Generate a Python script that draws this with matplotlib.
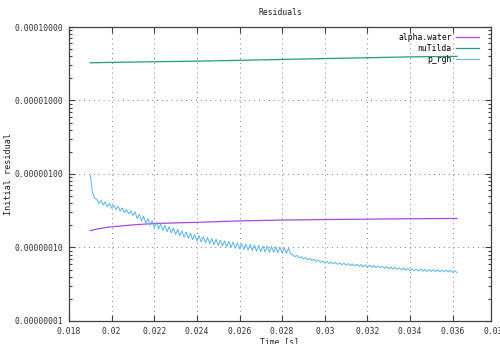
import numpy as np
import matplotlib
matplotlib.use("Agg")
import matplotlib.pyplot as plt
from matplotlib.ticker import FixedLocator, LogLocator, NullFormatter

# nuTilda (smooth, slowly rising)
t_nut = [0.019, 0.020, 0.022, 0.024, 0.026, 0.028, 0.030, 0.032, 0.034, 0.036, 0.0362]
nut = [3.26e-5, 3.30e-5, 3.37e-5, 3.43e-5, 3.52e-5, 3.62e-5, 3.72e-5, 3.82e-5, 3.92e-5, 3.98e-5, 3.99e-5]

# alpha.water
t_alpha = [0.019, 0.0193, 0.0197, 0.020, 0.021, 0.022, 0.023, 0.024, 0.026, 0.028,
           0.030, 0.032, 0.034, 0.036, 0.0362]
alpha = [1.70e-7, 1.78e-7, 1.86e-7, 1.91e-7, 2.03e-7, 2.12e-7, 2.16e-7, 2.20e-7, 2.30e-7,
         2.36e-7, 2.40e-7, 2.43e-7, 2.46e-7, 2.48e-7, 2.48e-7]

# p_rgh, one value per time step of 1e-4 s starting at 0.019 (units of 1e-9)
t0_prgh = 0.019
dt_prgh = 0.0001
prgh_e9 = [
    960, 560, 470, 456, 395, 435, 377, 416, 359, 396,
    343, 378, 328, 361, 313, 345, 299, 330, 286, 315,
    273, 305, 247, 284, 229, 266, 214, 247, 200, 231,
    187, 219, 178, 209, 171, 201, 164, 192, 157, 184,
    150, 177, 144, 169, 138, 162, 133, 156, 128, 150,
    123, 145, 119, 141, 116, 137, 113, 133, 109, 130,
    106, 126, 105, 123, 102, 121, 100, 119, 98, 116,
    96, 113, 94, 111, 93, 110, 91, 108, 89, 107,
    88, 105, 87, 104, 86, 103, 86, 102, 85, 101,
    84, 99, 83, 98, 82, 80, 75, 78, 72, 75,
    70, 73.1, 68.0, 71.3, 66.3, 69.4, 64.5, 67.6, 62.8, 65.8,
    61.1, 64.5, 60.3, 63.7, 59.6, 62.8, 58.8, 62.0, 58.0, 61.2,
    57.2, 60.5, 56.6, 59.8, 56.1, 59.2, 55.5, 58.6, 54.9, 58.0,
    54.3, 57.4, 53.7, 56.8, 53.2, 56.1, 52.6, 55.5, 52.0, 54.9,
    51.4, 54.3, 50.8, 53.7, 50.2, 53.0, 49.7, 52.4, 49.1, 51.8,
    48.5, 51.3, 48.2, 51.0, 47.9, 50.8, 47.6, 50.5, 47.3, 50.1,
    47.0, 49.9, 46.9, 49.7, 46.7, 49.5, 46.5, 49.2, 46.3, 49.0,
    46.1, 48.5, 45.5,
]
t_prgh = t0_prgh + dt_prgh * np.arange(len(prgh_e9))
prgh = np.array(prgh_e9) * 1e-9

x_ticks = [0.018, 0.020, 0.022, 0.024, 0.026, 0.028, 0.030, 0.032, 0.034, 0.036]
x_ticklabels = ["0.018", "0.02", "0.022", "0.024", "0.026", "0.028", "0.03", "0.032", "0.034", "0.036"]
y_ticks = [1e-8, 1e-7, 1e-6, 1e-5, 1e-4]

FONT = "DejaVu Sans Mono"
FS = 5.8
plt.rcParams["font.family"] = FONT

fig = plt.figure(figsize=(5.0, 3.44), dpi=100)
ax = fig.add_axes([0.138, 0.0669, 0.844, 0.8546])

ax.plot(t_alpha, alpha, color="#a648e0", lw=0.9, label="alpha.water")
ax.plot(t_nut, nut, color="#1f9e7a", lw=0.9, label="nuTilda")
ax.plot(t_prgh, prgh, color="#56b4e9", lw=0.7, label="p_rgh")

ax.set_yscale("log")
ax.set_xlim(0.018, 0.0378)
ax.set_ylim(1e-8, 1e-4)

ax.xaxis.set_major_locator(FixedLocator(x_ticks))
ax.set_xticklabels(x_ticklabels, fontsize=FS)
ax.yaxis.set_major_locator(FixedLocator(y_ticks))
ax.set_yticklabels(["%.8f" % v for v in y_ticks], fontsize=FS)
ax.yaxis.set_minor_locator(LogLocator(base=10, subs=np.arange(2, 10)))
ax.yaxis.set_minor_formatter(NullFormatter())

ax.tick_params(which="both", direction="in", top=True, right=True, colors="#404040",
               labelcolor="#303030", width=0.8)
ax.tick_params(which="major", length=4, pad=4)
ax.tick_params(which="minor", length=2)

for s in ax.spines.values():
    s.set_color("#404040")
    s.set_linewidth(0.9)

ax.grid(True, which="major", color="#808080", lw=0.7, linestyle=(0, (1, 4)))

# tick label for 0.038, which sits just past the right border
ax.annotate("0.038", xy=(0.038, 0), xycoords=ax.get_xaxis_transform(),
            xytext=(0, -4), textcoords="offset points", ha="center", va="top",
            fontsize=FS, color="#303030", annotation_clip=False)

ax.set_title("Residuals", fontsize=FS, pad=9, color="#202020")
ax.set_ylabel("Initial residual", fontsize=FS + 0.3, labelpad=1, color="#202020")
ax.set_xlabel("Time [s]", fontsize=FS, labelpad=1, color="#202020")

leg = ax.legend(loc="upper right", frameon=False, fontsize=FS, markerfirst=False,
                handlelength=2.9, handletextpad=0.5, labelspacing=0.25,
                borderaxespad=0.3, bbox_to_anchor=(0.985, 1.0))

fig.savefig("out.png", dpi=100)
